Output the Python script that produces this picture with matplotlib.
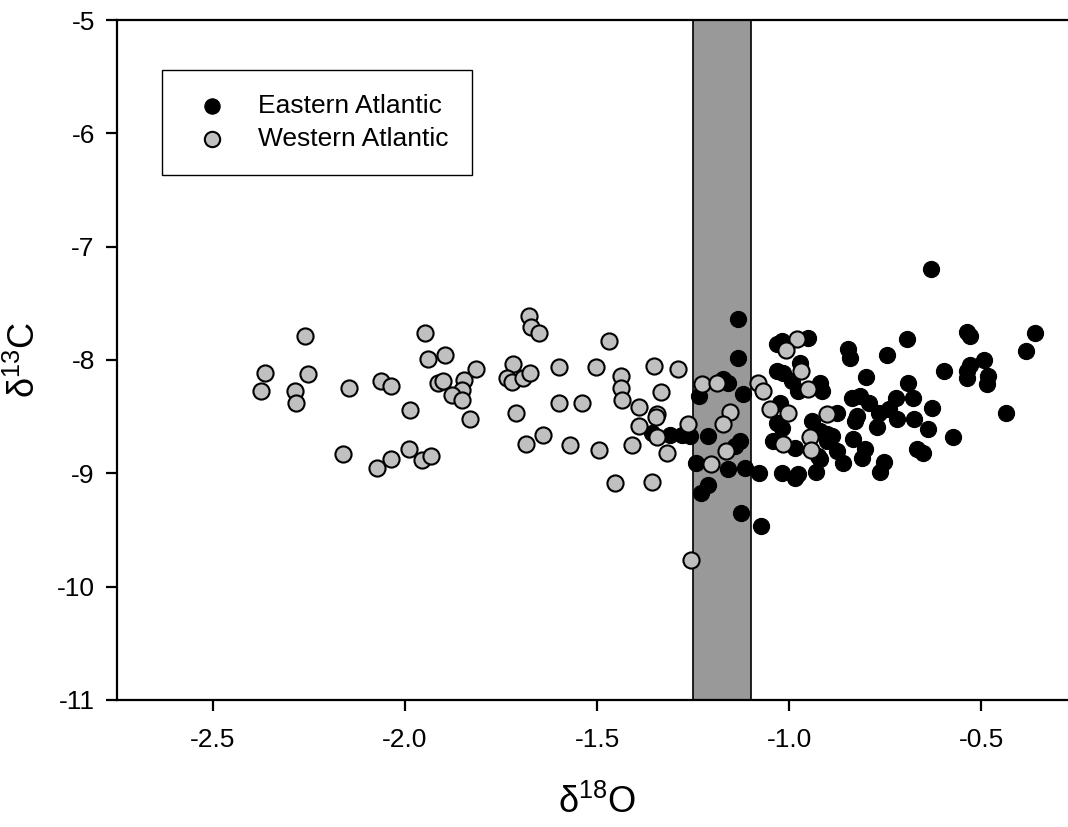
import numpy as np
import matplotlib
matplotlib.use('Agg')
import matplotlib.pyplot as plt

plt.rcParams['font.family'] = ['Liberation Sans', 'DejaVu Sans']
plt.rcParams['mathtext.fontset'] = 'custom'
plt.rcParams['mathtext.rm'] = 'Liberation Sans'
plt.rcParams['axes.unicode_minus'] = False

# Western Atlantic (grey)
west_d18O = [-2.260, -2.365, -2.376, -2.253, -2.286, -2.284, -2.145, -2.062, -2.036, -1.948,
             -1.941, -1.895, -1.814, -1.915, -1.902, -1.846, -1.851, -1.879, -1.851, -1.831,
             -1.987, -2.161, -2.073, -2.036, -1.991, -1.957, -1.933,
             -1.677, -1.673, -1.652, -1.468, -1.718, -1.734, -1.722, -1.692, -1.674, -1.599,
             -1.504, -1.437, -1.437, -1.436, -1.352, -1.288, -1.333, -1.226, -1.711, -1.599,
             -1.540, -1.390, -1.344, -1.347, -1.391, -1.343, -1.262, -1.686, -1.640, -1.570,
             -1.495, -1.409, -1.319, -1.452, -1.356,
             -1.188, -1.154, -1.171, -1.164, -1.203, -1.082, -1.069, -0.980, -1.007, -0.970,
             -0.951, -1.049, -1.002, -0.900, -0.945, -1.016, -0.943, -1.255]
west_d13C = [-7.784, -8.119, -8.275, -8.128, -8.278, -8.383, -8.248, -8.189, -8.227, -7.764,
             -7.993, -7.955, -8.078, -8.201, -8.187, -8.175, -8.266, -8.310, -8.357, -8.524,
             -8.439, -8.827, -8.956, -8.871, -8.783, -8.880, -8.844,
             -7.614, -7.711, -7.761, -7.831, -8.037, -8.157, -8.192, -8.157, -8.116, -8.060,
             -8.063, -8.142, -8.251, -8.357, -8.057, -8.081, -8.284, -8.209, -8.471, -8.383,
             -8.381, -8.413, -8.480, -8.504, -8.583, -8.680, -8.562, -8.744, -8.662, -8.751,
             -8.797, -8.747, -8.818, -9.088, -9.073,
             -8.201, -8.456, -8.568, -8.803, -8.914, -8.201, -8.275, -7.819, -7.916, -8.098,
             -8.254, -8.436, -8.466, -8.480, -8.680, -8.744, -8.795, -9.767]

# Eastern Atlantic (black)
east_d18O = [-1.234, -1.357, -1.310, -1.278, -1.258, -1.243,
             -1.132, -1.132, -1.171, -1.158, -1.119, -1.210, -1.129, -1.141,
             -0.950, -1.032, -1.019, -0.846, -0.841, -1.032, -1.015, -0.971, -0.993, -0.976,
             -0.919, -0.915, -0.800, -0.837, -0.815, -0.793, -1.023, -1.032, -1.019, -0.941,
             -0.919, -0.889, -0.833, -1.041, -0.984, -0.924, -0.876, -0.802,
             -0.694, -0.746, -0.536, -0.529, -0.359, -0.383, -0.492, -0.529, -0.537, -0.536,
             -0.481, -0.485, -0.596, -0.689, -0.721, -0.676, -0.628, -0.720, -0.772, -0.674,
             -0.637, -0.436, -0.572, -0.667, -0.650, -0.754,
             -0.876, -0.824, -0.828, -0.767, -0.741, -0.902, -0.630,
             -1.160, -1.116, -1.078, -1.210, -1.230, -1.125, -1.074, -1.019, -0.984, -0.976,
             -0.929, -0.919, -0.859, -0.811, -0.763, -0.902]
east_d13C = [-8.319, -8.648, -8.662, -8.662, -8.674, -8.912,
             -7.637, -7.981, -8.172, -8.207, -8.304, -8.671, -8.715, -8.759,
             -7.804, -7.863, -7.834, -7.907, -7.981, -8.098, -8.119, -8.025, -8.187, -8.275,
             -8.201, -8.275, -8.151, -8.333, -8.319, -8.377, -8.377, -8.553, -8.597, -8.539,
             -8.627, -8.671, -8.700, -8.715, -8.774, -8.847, -8.803, -8.789,
             -7.811, -7.957, -7.752, -7.790, -7.761, -7.922, -7.996, -8.040, -8.098, -8.157,
             -8.142, -8.216, -8.098, -8.201, -8.333, -8.339, -8.421, -8.524, -8.592, -8.524,
             -8.612, -8.466, -8.683, -8.789, -8.824, -8.897,
             -8.466, -8.495, -8.539, -8.466, -8.436, -8.656, -7.197,
             -8.965, -8.950, -8.994, -9.106, -9.176, -9.352, -9.464, -8.994, -9.038, -9.009,
             -8.988, -8.877, -8.912, -8.862, -8.988, -8.715]

band = (-1.25, -1.1)

fig = plt.figure(figsize=(10.68, 8.27), dpi=100)
ax = fig.add_axes([0.1096, 0.1536, 0.8989, 0.8222])

ax.axvspan(band[0], band[1], facecolor='#999999', edgecolor='black', linewidth=1.2, zorder=1)

ax.scatter(east_d18O, east_d13C, s=135, c='black', edgecolors='black', linewidths=0.8,
           label='Eastern Atlantic', zorder=3)
ax.scatter(west_d18O, west_d13C, s=135, c='#c0c0c0', edgecolors='black', linewidths=1.5,
           label='Western Atlantic', zorder=4)

ax.set_xlim(-2.75, -0.25)
ax.set_ylim(-11, -5)
ax.set_xticks([-2.5, -2.0, -1.5, -1.0, -0.5])
ax.set_xticklabels(['%.1f' % v for v in [-2.5, -2.0, -1.5, -1.0, -0.5]])
ax.set_yticks(range(-11, -4))

for s in ['left', 'bottom', 'top']:
    ax.spines[s].set_linewidth(1.6)
ax.spines['right'].set_visible(False)
ax.tick_params(direction='out', length=8, width=1.6, labelsize=19)
ax.tick_params(axis='x', pad=12)
ax.tick_params(axis='y', pad=8)

ax.set_xlabel(r'$\mathregular{\delta^{18}}$O', fontsize=26, labelpad=24)
ax.set_ylabel(r'$\mathregular{\delta^{13}}$C', fontsize=26, labelpad=10)

leg = ax.legend(loc='upper left', bbox_to_anchor=(0.047, 0.926), borderaxespad=0,
                fontsize=19, fancybox=False, framealpha=1, edgecolor='black',
                borderpad=0.9, handlelength=2.0, handletextpad=0.74, labelspacing=0.35,
                markerscale=0.95)
leg.get_frame().set_linewidth(1.0)

fig.savefig('out.png', dpi=100)
